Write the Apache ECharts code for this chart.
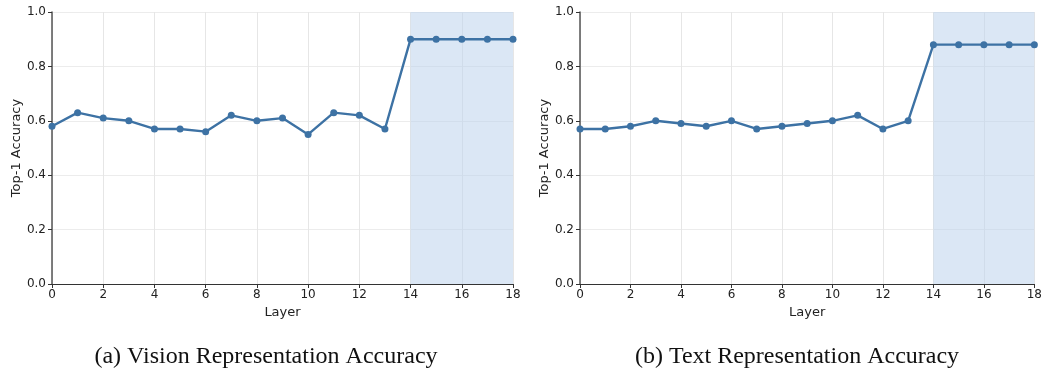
<!DOCTYPE html>
<html>
<head>
<meta charset="utf-8">
<script src="https://cdn.jsdelivr.net/npm/echarts@6/dist/echarts.min.js"></script>
<style>
html,body{margin:0;padding:0;background:#fff;}
#c{width:1045px;height:368px;}
</style>
</head>
<body>
<div id="c"></div>
<script>
const layers = [0,1,2,3,4,5,6,7,8,9,10,11,12,13,14,15,16,17,18];
const visionAcc = [0.58,0.63,0.61,0.60,0.57,0.57,0.56,0.62,0.60,0.61,0.55,0.63,0.62,0.57,0.90,0.90,0.90,0.90,0.90];
const textAcc = [0.57,0.57,0.58,0.60,0.59,0.58,0.60,0.57,0.58,0.59,0.60,0.62,0.57,0.60,0.88,0.88,0.88,0.88,0.88];
const shadeRange = [14, 18];
const captions = ['(a) Vision Representation Accuracy', '(b) Text Representation Accuracy'];
const xAxisName = 'Layer';
const yAxisName = 'Top-1 Accuracy';

const chart = echarts.init(document.getElementById('c'));
const labelFont = {fontFamily: 'DejaVu Sans', fontSize: 12, color: '#222'};
function xAx(i){
  return {type:'value', gridIndex:i, min:0, max:18, interval:2,
    name:xAxisName, nameLocation:'middle', nameGap:20, nameTextStyle:{...labelFont, fontSize:13},
    axisLine:{lineStyle:{color:'#333', width:1}}, axisTick:{show:true, length:4, lineStyle:{color:'#333'}},
    axisLabel:{...labelFont, margin:5},
    splitLine:{show:true, lineStyle:{color:'#e6e6e6'}}};
}
function yAx(i){
  return {type:'value', gridIndex:i, min:0, max:1, interval:0.2,
    name:yAxisName, nameLocation:'middle', nameGap:29, nameTextStyle:{...labelFont, fontSize:13},
    axisLine:{show:true, lineStyle:{color:'#555', width:1.5}}, axisTick:{show:true, length:4, lineStyle:{color:'#333'}},
    axisLabel:{...labelFont, margin:6, formatter:v=>v.toFixed(1)},
    splitLine:{show:true, lineStyle:{color:'#ececec'}}};
}
function ser(i, data){
  return {type:'line', xAxisIndex:i, yAxisIndex:i, data: layers.map((l,k)=>[l,data[k]]),
    symbol:'circle', symbolSize:7, lineStyle:{color:'#3d72a4', width:2.4}, itemStyle:{color:'#3d72a4'},
    animation:false, z:5,
    markArea:{silent:true, itemStyle:{color:'rgba(190,212,236,0.55)'}, data:[[{xAxis:shadeRange[0]},{xAxis:shadeRange[1]}]]}};
}
chart.setOption({
  animation:false,
  grid:[{left:52, top:12, width:461, height:272},{left:580, top:12, width:460, height:272}],
  xAxis:[xAx(0), xAx(1)],
  yAxis:[yAx(0), yAx(1)],
  series:[ser(0, visionAcc), ser(1, textAcc)],
  title:[
    {text:captions[0], left:261, top:340, textAlign:'center', textStyle:{fontFamily:'Liberation Serif', fontSize:24, fontWeight:'normal', color:'#111'}},
    {text:captions[1], left:792, top:340, textAlign:'center', textStyle:{fontFamily:'Liberation Serif', fontSize:24, fontWeight:'normal', color:'#111'}}
  ]
});
</script>
</body>
</html>
